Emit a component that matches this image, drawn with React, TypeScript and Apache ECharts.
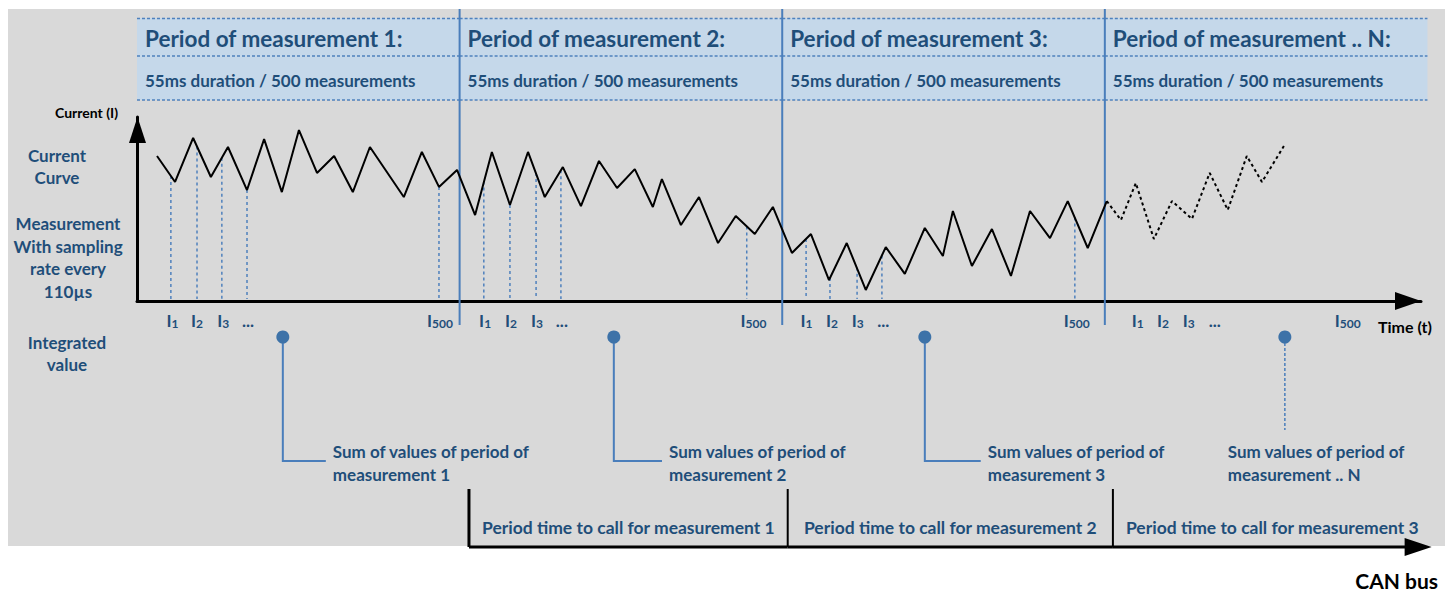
import React, { useEffect, useRef } from "react";
import * as echarts from "echarts";

// ---------------- data ----------------
const periodTitles = [
  "Period of measurement 1:",
  "Period of measurement 2:",
  "Period of measurement 3:",
  "Period of measurement .. N:",
];
const periodSubtitles = [
  "55ms duration / 500 measurements",
  "55ms duration / 500 measurements",
  "55ms duration / 500 measurements",
  "55ms duration / 500 measurements",
];
const periodStart = [0, 100, 200, 300];
const periodEnd = [100, 200, 300, 400];

// measured current curve (solid)
const curveX = [6.2, 11.8, 17.4, 22.9, 28.2, 34.1, 39.4, 44.9, 50.2, 55.8, 61.1, 66.9, 72.2, 82.7, 88.3, 93.6, 99.2, 104.8, 110.0, 115.6, 121.2, 126.4, 132.0, 137.6, 143.2, 148.8, 154.3, 159.9, 162.7, 168.6, 174.2, 180.1, 185.6, 191.5, 197.1, 203.0, 208.9, 214.5, 220.0, 225.9, 232.1, 238.0, 244.2, 249.8, 252.9, 258.8, 265.0, 270.9, 276.8, 283.0, 288.5, 294.7, 300.6];
const curveY = [78.8, 64.7, 88.6, 67.4, 83.7, 60.3, 88.0, 59.2, 92.9, 69.6, 78.8, 59.2, 83.7, 56.5, 81.0, 62.0, 71.2, 46.7, 81.0, 52.2, 81.0, 56.5, 72.8, 51.6, 76.1, 61.4, 71.7, 51.1, 66.3, 41.3, 56.5, 31.5, 46.2, 36.4, 51.1, 26.1, 36.4, 11.4, 31.5, 6.0, 29.3, 14.7, 39.7, 24.5, 48.9, 19.0, 39.1, 13.6, 48.9, 34.2, 54.3, 28.8, 54.3];

// continuation (dotted)
const projX = [300.6, 305.0, 309.6, 315.2, 320.8, 327.0, 332.5, 338.1, 344.0, 348.7, 355.5];
const projY = [54.3, 44.0, 64.1, 33.7, 54.3, 44.6, 69.6, 49.5, 78.8, 64.7, 84.2];

// sampling points
const sampleX = [10.5, 18.6, 26.3, 34.1, 93.6, 107.5, 115.6, 123.7, 131.4, 189.0, 207.4, 214.8, 223.2, 230.9, 290.7];
const sampleY = [67.9, 83.9, 77.9, 60.3, 62.0, 64.9, 52.2, 69.5, 71.0, 40.5, 33.7, 12.5, 18.1, 24.7, 45.4];

// sample tick labels
const labelX = [11.0, 18.6, 26.7, 34.4, 93.9, 107.9, 115.9, 124.0, 131.7, 191.1, 207.5, 215.4, 223.4, 231.3, 291.3, 310.2, 318.0, 326.0, 334.1, 375.3];
const labelSub = ["1", "2", "3", "", "500", "1", "2", "3", "", "500", "1", "2", "3", "", "500", "1", "2", "3", "", "500"];

// integrated values
const integratedX = [45.2, 147.8, 244.2, 355.8];
const sumLabelX = [60.7, 164.9, 263.7, 338.1];
const sumLine1 = ["Sum of values of period of", "Sum values of period of", "Sum values of period of", "Sum values of period of"];
const sumLine2 = ["measurement 1", "measurement 2", "measurement 3", "measurement .. N"];

// CAN bus call periods
const canStart = [102.9, 201.7, 302.5];
const canEnd = [201.7, 302.5, 401.3];
const canTexts = [
  "Period time to call for measurement 1",
  "Period time to call for measurement 2",
  "Period time to call for measurement 3",
];

// ---------------- styles ----------------
const FONT = "Lato, 'Open Sans', sans-serif";
const BLUE = "#1f4e79";
const BAND = "#c5d8ea";
const DOT = "#4f81bd";
const DIV = "#4a7ebb";
const MARK = "#3d72a8";
const GRAY = "#d9d9d9";

const GRID_LEFT = 137;
const GRID_TOP = 117;
const AXIS_Y = 301;
const AXIS_RIGHT = 1421;

export default function App() {
  const ref = useRef<HTMLDivElement>(null);

  useEffect(() => {
    document.body.style.margin = "0";
    if (!ref.current) return;
    const chart = echarts.init(ref.current, undefined, { renderer: "svg" });

    const txt = (x: number, y: number, text: string, size: number, color: string, align = "left") => ({
      type: "text",
      x,
      y,
      style: {
        text,
        fill: color,
        fontFamily: FONT,
        fontWeight: "bold",
        fontSize: size,
        align,
        verticalAlign: "middle",
      },
    });

    const option: any = {
      animation: false,
      backgroundColor: "#ffffff",
      grid: {
        left: GRID_LEFT,
        top: GRID_TOP,
        right: 1451 - AXIS_RIGHT,
        bottom: 593 - AXIS_Y,
        containLabel: false,
      },
      xAxis: {
        type: "value",
        min: 0,
        max: 398,
        axisLine: { show: true, onZero: false, lineStyle: { color: "#000", width: 3 } },
        axisTick: { show: false },
        axisLabel: { show: false },
        splitLine: { show: false },
      },
      yAxis: {
        type: "value",
        min: 0,
        max: 100,
        axisLine: { show: true, onZero: false, lineStyle: { color: "#000", width: 3 } },
        axisTick: { show: false },
        axisLabel: { show: false },
        splitLine: { show: false },
      },
      graphic: [
        { type: "rect", z: -100, shape: { x: 8, y: 9, width: 1437, height: 537 }, style: { fill: GRAY } },
        // axis arrowheads
        { type: "polygon", z: 100, shape: { points: [[GRID_LEFT + 0.5, GRID_TOP], [GRID_LEFT - 8, GRID_TOP + 26], [GRID_LEFT + 9, GRID_TOP + 26]] }, style: { fill: "#000" } },
        { type: "polygon", z: 100, shape: { points: [[AXIS_RIGHT, AXIS_Y], [AXIS_RIGHT - 26, AXIS_Y - 9], [AXIS_RIGHT - 26, AXIS_Y + 9]] }, style: { fill: "#000" } },
        txt(118, 112, "Current (I)", 14, "#000", "right"),
        txt(57, 155, "Current", 17, BLUE, "center"),
        txt(57, 177, "Curve", 17, BLUE, "center"),
        txt(68, 223, "Measurement", 17, BLUE, "center"),
        txt(68, 246, "With sampling", 17, BLUE, "center"),
        txt(68, 268, "rate every", 17, BLUE, "center"),
        txt(68, 291, "110µs", 17, BLUE, "center"),
        txt(67, 342, "Integrated", 17, BLUE, "center"),
        txt(67, 364, "value", 17, BLUE, "center"),
        txt(1378, 326, "Time (t)", 16, "#000", "left"),
        txt(1438, 580, "CAN bus", 21, "#000", "right"),
      ],
      series: [
        {
          // header cells + period dividers
          type: "custom",
          z: 1,
          silent: true,
          data: periodStart.map((s, i) => [s, periodEnd[i]]),
          renderItem: (params: any, api: any) => {
            const i = params.dataIndex;
            const x0 = api.coord([api.value(0), 0])[0];
            const x1 = api.coord([api.value(1), 0])[0];
            const children: any[] = [
              { type: "rect", shape: { x: x0, y: 18, width: x1 - x0, height: 82 }, style: { fill: BAND } },
            ];
            [18.5, 56, 100].forEach((y) =>
              children.push({
                type: "line",
                shape: { x1: x0, y1: y, x2: x1, y2: y },
                style: { stroke: DOT, lineWidth: 1.5, lineDash: [3, 2] },
              })
            );
            children.push(txt(x0 + 8, 38, periodTitles[i], 22.5, BLUE));
            children.push(txt(x0 + 8, 80, periodSubtitles[i], 17, BLUE));
            if (i > 0) {
              children.push({
                type: "line",
                shape: { x1: x0, y1: 9, x2: x0, y2: 325 },
                style: { stroke: DIV, lineWidth: 2 },
              });
            }
            return { type: "group", children };
          },
        },
        {
          // sampling lines
          type: "custom",
          z: 2,
          silent: true,
          data: sampleX.map((x, i) => [x, sampleY[i]]),
          renderItem: (params: any, api: any) => {
            const top = api.coord([api.value(0), api.value(1)]);
            const bot = api.coord([api.value(0), 0]);
            return {
              type: "line",
              shape: { x1: top[0], y1: top[1], x2: bot[0], y2: bot[1] - 2 },
              style: { stroke: DOT, lineWidth: 1.5, lineDash: [3, 3] },
            };
          },
        },
        {
          type: "line",
          z: 4,
          silent: true,
          data: curveX.map((x, i) => [x, curveY[i]]),
          showSymbol: false,
          lineStyle: { color: "#000", width: 2 },
        },
        {
          type: "line",
          z: 4,
          silent: true,
          data: projX.map((x, i) => [x, projY[i]]),
          showSymbol: false,
          lineStyle: { color: "#000", width: 2, type: [3, 3] },
        },
        {
          // sample labels
          type: "custom",
          z: 3,
          silent: true,
          data: labelX.map((x) => [x, 0]),
          renderItem: (params: any, api: any) => {
            const p = api.coord([api.value(0), 0]);
            const sub = labelSub[params.dataIndex];
            const text = sub === "" ? "{d|...}" : `{i|I}{s|${sub}}`;
            return {
              type: "text",
              x: p[0],
              y: p[1] + 19,
              style: {
                text,
                align: "center",
                verticalAlign: "middle",
                rich: {
                  i: { fontFamily: FONT, fontWeight: "bold", fontSize: 17, lineHeight: 18, fill: BLUE },
                  s: { fontFamily: FONT, fontWeight: "bold", fontSize: 12, verticalAlign: "bottom", fill: BLUE },
                  d: { fontFamily: FONT, fontWeight: "bold", fontSize: 17, lineHeight: 18, fill: BLUE },
                },
              },
            };
          },
        },
        {
          // integrated values
          type: "custom",
          z: 3,
          silent: true,
          data: integratedX.map((x) => [x, 0]),
          renderItem: (params: any, api: any) => {
            const i = params.dataIndex;
            const x = api.coord([api.value(0), 0])[0];
            const tx = api.coord([sumLabelX[i], 0])[0];
            const cy = 337;
            const last = i === integratedX.length - 1;
            const children: any[] = [];
            if (!last) {
              children.push({
                type: "polyline",
                shape: { points: [[x, cy], [x, 461], [tx - 7, 461]] },
                style: { stroke: DIV, lineWidth: 2, fill: "none" },
              });
            } else {
              children.push({
                type: "line",
                shape: { x1: x, y1: cy + 6, x2: x, y2: 430 },
                style: { stroke: DIV, lineWidth: 1.5, lineDash: [3, 2] },
              });
            }
            children.push({ type: "circle", shape: { cx: x, cy, r: 6.5 }, style: { fill: MARK } });
            children.push(txt(tx, 451, sumLine1[i], 17, BLUE));
            children.push(txt(tx, 474, sumLine2[i], 17, BLUE));
            return { type: "group", children };
          },
        },
        {
          // CAN bus
          type: "custom",
          z: 3,
          silent: true,
          data: canStart.map((s, i) => [s, canEnd[i]]),
          renderItem: (params: any, api: any) => {
            const i = params.dataIndex;
            const x0 = api.coord([api.value(0), 0])[0];
            const x1 = api.coord([api.value(1), 0])[0];
            const children: any[] = [
              { type: "line", shape: { x1: x0, y1: 489, x2: x0, y2: 547 }, style: { stroke: "#000", lineWidth: i === 0 ? 3 : 2 } },
              { type: "line", shape: { x1: x0, y1: 547, x2: x1 - (i === 2 ? 20 : 0), y2: 547 }, style: { stroke: "#000", lineWidth: 3 } },
              txt((x0 + x1) / 2, 527, canTexts[i], 17.5, BLUE, "center"),
            ];
            if (i === 2) {
              children.push({
                type: "polygon",
                shape: { points: [[x1, 547], [x1 - 27, 538], [x1 - 27, 556]] },
                style: { fill: "#000" },
              });
            }
            return { type: "group", children };
          },
        },
      ],
    };

    chart.setOption(option);
    return () => chart.dispose();
  }, []);

  return <div ref={ref} style={{ width: 1451, height: 593 }} />;
}
